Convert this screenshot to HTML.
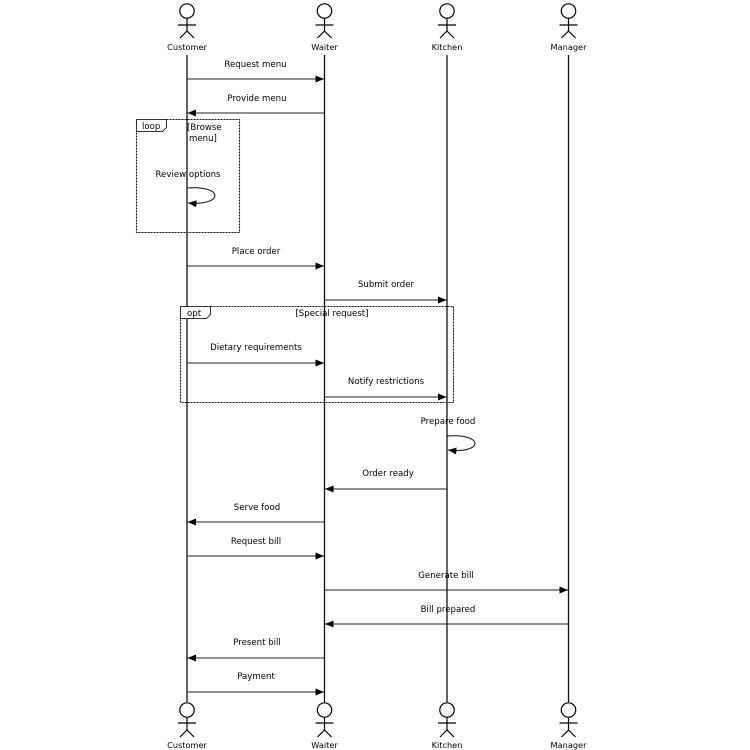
<!DOCTYPE html>
<html><head><meta charset="utf-8"><style>
html,body{margin:0;padding:0;background:#fff;}
svg{display:block;}
text{font-family:"DejaVu Sans","Liberation Sans",sans-serif;fill:#000;}
.m{font-size:8.6px;text-anchor:middle;}
.a{font-size:8.2px;text-anchor:middle;}
.l{font-size:8.6px;}
</style></head><body>
<svg width="750" height="750" viewBox="0 0 750 750" xmlns="http://www.w3.org/2000/svg">
<defs>
<marker id="ah" markerWidth="10" markerHeight="8" refX="8.5" refY="3.5" orient="auto" markerUnits="userSpaceOnUse">
<path d="M0,0 L8.5,3.5 L0,7 z" fill="#000"/>
</marker>
</defs>
<!-- lifelines -->
<g stroke="#111" stroke-width="1.3">
<line x1="187" y1="55" x2="187" y2="702"/>
<line x1="324.5" y1="55" x2="324.5" y2="702"/>
<line x1="447" y1="55" x2="447" y2="702"/>
<line x1="568.5" y1="55" x2="568.5" y2="702"/>
</g>
<!-- actors -->
<g fill="#fff" stroke="#000" stroke-width="1.2">
<g transform="translate(187,0)"><circle cx="0" cy="11" r="7.2"/><line x1="0" y1="18" x2="0" y2="31"/><line x1="-9" y1="25" x2="9" y2="25"/><line x1="0" y1="31" x2="-7" y2="38"/><line x1="0" y1="31" x2="7" y2="38"/></g>
<g transform="translate(324.5,0)"><circle cx="0" cy="11" r="7.2"/><line x1="0" y1="18" x2="0" y2="31"/><line x1="-9" y1="25" x2="9" y2="25"/><line x1="0" y1="31" x2="-7" y2="38"/><line x1="0" y1="31" x2="7" y2="38"/></g>
<g transform="translate(447,0)"><circle cx="0" cy="11" r="7.2"/><line x1="0" y1="18" x2="0" y2="31"/><line x1="-9" y1="25" x2="9" y2="25"/><line x1="0" y1="31" x2="-7" y2="38"/><line x1="0" y1="31" x2="7" y2="38"/></g>
<g transform="translate(568.5,0)"><circle cx="0" cy="11" r="7.2"/><line x1="0" y1="18" x2="0" y2="31"/><line x1="-9" y1="25" x2="9" y2="25"/><line x1="0" y1="31" x2="-7" y2="38"/><line x1="0" y1="31" x2="7" y2="38"/></g>
<g transform="translate(187,699)"><circle cx="0" cy="11" r="7.2"/><line x1="0" y1="18" x2="0" y2="31"/><line x1="-9" y1="24" x2="9" y2="24"/><line x1="0" y1="31" x2="-7" y2="38"/><line x1="0" y1="31" x2="7" y2="38"/></g>
<g transform="translate(324.5,699)"><circle cx="0" cy="11" r="7.2"/><line x1="0" y1="18" x2="0" y2="31"/><line x1="-9" y1="24" x2="9" y2="24"/><line x1="0" y1="31" x2="-7" y2="38"/><line x1="0" y1="31" x2="7" y2="38"/></g>
<g transform="translate(447,699)"><circle cx="0" cy="11" r="7.2"/><line x1="0" y1="18" x2="0" y2="31"/><line x1="-9" y1="24" x2="9" y2="24"/><line x1="0" y1="31" x2="-7" y2="38"/><line x1="0" y1="31" x2="7" y2="38"/></g>
<g transform="translate(568.5,699)"><circle cx="0" cy="11" r="7.2"/><line x1="0" y1="18" x2="0" y2="31"/><line x1="-9" y1="24" x2="9" y2="24"/><line x1="0" y1="31" x2="-7" y2="38"/><line x1="0" y1="31" x2="7" y2="38"/></g>
</g>
<text class="a" x="187" y="50">Customer</text>
<text class="a" x="324.5" y="50">Waiter</text>
<text class="a" x="447" y="50">Kitchen</text>
<text class="a" x="568.5" y="50">Manager</text>
<text class="a" x="187" y="748">Customer</text>
<text class="a" x="324.5" y="748">Waiter</text>
<text class="a" x="447" y="748">Kitchen</text>
<text class="a" x="568.5" y="748">Manager</text>

<!-- frames -->
<g fill="none" stroke="#111" stroke-width="1.1" stroke-dasharray="2,1">
<rect x="136.5" y="119.5" width="103" height="113"/>
<rect x="180.5" y="306.5" width="273" height="96"/>
</g>
<g fill="#fff" stroke="#333" stroke-width="1">
<polygon points="136.5,119.5 166.5,119.5 166.5,127.5 162.5,131.5 136.5,131.5"/>
<polygon points="180.5,306.5 210.5,306.5 210.5,314.5 206.5,318.5 180.5,318.5"/>
</g>
<text class="l" x="142" y="129">loop</text>
<text class="l" x="187" y="130">[Browse</text>
<text class="l" x="189" y="141">menu]</text>
<text class="l" x="187" y="316">opt</text>
<text class="m" x="332" y="316">[Special request]</text>

<!-- messages -->
<g stroke="#222" stroke-width="1.1" fill="none" marker-end="url(#ah)">
<line x1="187" y1="79" x2="324" y2="79"/>
<line x1="324.5" y1="113" x2="187.5" y2="113"/>
<path d="M187,188 C224,185 224,206 188,203"/>
<line x1="187" y1="266" x2="324" y2="266"/>
<line x1="324.5" y1="300" x2="446.5" y2="300"/>
<line x1="187" y1="363" x2="324" y2="363"/>
<line x1="324.5" y1="397" x2="446.5" y2="397"/>
<path d="M447,436 C484,433 484,454 448,450"/>
<line x1="447" y1="489" x2="325" y2="489"/>
<line x1="324.5" y1="522" x2="187.5" y2="522"/>
<line x1="187" y1="556" x2="324" y2="556"/>
<line x1="324.5" y1="590" x2="568" y2="590"/>
<line x1="568.5" y1="624" x2="325" y2="624"/>
<line x1="324.5" y1="658" x2="187.5" y2="658"/>
<line x1="187" y1="692" x2="324" y2="692"/>
</g>
<text class="m" x="255.5" y="67">Request menu</text>
<text class="m" x="257" y="101">Provide menu</text>
<text class="m" x="188" y="177">Review options</text>
<text class="m" x="256" y="254">Place order</text>
<text class="m" x="386" y="287">Submit order</text>
<text class="m" x="256" y="350">Dietary requirements</text>
<text class="m" x="386" y="384">Notify restrictions</text>
<text class="m" x="448" y="424">Prepare food</text>
<text class="m" x="388" y="476">Order ready</text>
<text class="m" x="257" y="510">Serve food</text>
<text class="m" x="256" y="544">Request bill</text>
<text class="m" x="446" y="578">Generate bill</text>
<text class="m" x="448" y="612">Bill prepared</text>
<text class="m" x="257" y="645">Present bill</text>
<text class="m" x="256" y="679">Payment</text>
</svg>
</body></html>
